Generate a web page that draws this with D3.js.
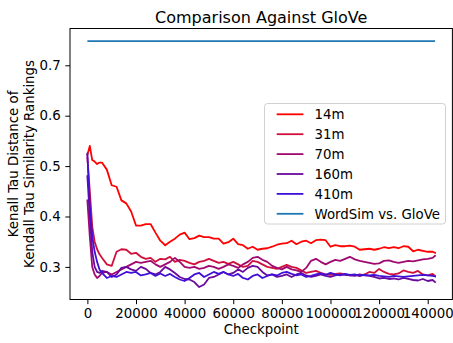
<!DOCTYPE html>
<html>
<head>
<meta charset="utf-8">
<script src="https://cdn.jsdelivr.net/npm/d3@7"></script>
<style>
  html, body { margin: 0; padding: 0; background: #fff; }
  svg { display: block; font-family: "DejaVu Sans", sans-serif; }
</style>
</head>
<body>
<svg id="chart" width="453" height="343"></svg>
<script>
// ---- data ----
const checkpoints = [0, 1000, 2000, 3000, 4000, 5000, 6000, 8000, 10000, 12000, 14000, 16000, 18000, 20000,
  22000, 24000, 26000, 28000, 30000, 32000, 34000, 36000, 38000, 40000, 42000, 44000, 46000, 48000, 50000,
  52000, 54000, 56000, 58000, 60000, 62000, 64000, 66000, 68000, 70000, 72000, 74000, 76000, 78000, 80000,
  82000, 84000, 86000, 88000, 90000, 92000, 94000, 96000, 98000, 100000, 102000, 104000, 106000, 108000, 110000,
  112000, 114000, 116000, 118000, 120000, 122000, 124000, 126000, 128000, 130000, 132000, 134000, 136000, 138000,
  140000, 142000, 143000];

const series14m = [0.522, 0.540, 0.512, 0.509, 0.504, 0.507, 0.507, 0.493, 0.462, 0.459, 0.432, 0.426, 0.410, 0.382,
  0.382, 0.385, 0.385, 0.368, 0.352, 0.343, 0.350, 0.356, 0.364, 0.368, 0.355, 0.357, 0.362, 0.359, 0.359,
  0.356, 0.356, 0.346, 0.349, 0.356, 0.345, 0.343, 0.336, 0.340, 0.334, 0.336, 0.337, 0.340, 0.344, 0.346,
  0.347, 0.352, 0.345, 0.350, 0.352, 0.347, 0.353, 0.354, 0.353, 0.340, 0.343, 0.341, 0.341, 0.342, 0.340,
  0.334, 0.335, 0.336, 0.334, 0.336, 0.339, 0.337, 0.339, 0.337, 0.341, 0.340, 0.331, 0.334, 0.332,
  0.330, 0.330, 0.328];

const series31m = [0.517, 0.450, 0.380, 0.350, 0.335, 0.325, 0.318, 0.305, 0.302, 0.330, 0.335, 0.334, 0.326, 0.328,
  0.320, 0.316, 0.318, 0.310, 0.316, 0.315, 0.320, 0.310, 0.314, 0.312, 0.308, 0.305, 0.310, 0.312, 0.316,
  0.312, 0.308, 0.310, 0.306, 0.310, 0.305, 0.300, 0.302, 0.312, 0.310, 0.305, 0.300, 0.298, 0.296, 0.300,
  0.304, 0.300, 0.298, 0.293, 0.288, 0.290, 0.292, 0.288, 0.285, 0.284, 0.286, 0.287, 0.285, 0.283, 0.284,
  0.282, 0.285, 0.290, 0.288, 0.296, 0.290, 0.286, 0.285, 0.287, 0.293, 0.290, 0.288, 0.292, 0.285,
  0.283, 0.286, 0.282];

const series70m = [0.432, 0.360, 0.300, 0.285, 0.278, 0.282, 0.288, 0.290, 0.285, 0.290, 0.295, 0.300, 0.305, 0.310,
  0.308, 0.310, 0.312, 0.305, 0.300, 0.305, 0.310, 0.318, 0.310, 0.300, 0.298, 0.300, 0.296, 0.298, 0.302,
  0.300, 0.296, 0.300, 0.305, 0.302, 0.298, 0.305, 0.310, 0.318, 0.320, 0.314, 0.310, 0.302, 0.298, 0.295,
  0.300, 0.295, 0.293, 0.290, 0.298, 0.312, 0.316, 0.310, 0.305, 0.310, 0.314, 0.312, 0.316, 0.320, 0.315,
  0.312, 0.310, 0.308, 0.306, 0.307, 0.312, 0.313, 0.310, 0.308, 0.310, 0.312, 0.311, 0.313, 0.315,
  0.316, 0.318, 0.322];

const series160m = [0.480, 0.400, 0.330, 0.300, 0.290, 0.288, 0.292, 0.290, 0.280, 0.285, 0.298, 0.300, 0.295, 0.292,
  0.300, 0.296, 0.288, 0.285, 0.290, 0.300, 0.295, 0.288, 0.280, 0.276, 0.275, 0.270, 0.260, 0.265, 0.278,
  0.280, 0.285, 0.290, 0.285, 0.288, 0.295, 0.290, 0.298, 0.302, 0.300, 0.290, 0.283, 0.285, 0.280, 0.282,
  0.285, 0.280, 0.285, 0.288, 0.283, 0.280, 0.282, 0.285, 0.282, 0.280, 0.283, 0.285, 0.284, 0.283, 0.282,
  0.285, 0.283, 0.282, 0.280, 0.277, 0.278, 0.276, 0.277, 0.275, 0.278, 0.276, 0.274, 0.273, 0.276,
  0.272, 0.274, 0.270];

const series410m = [0.525, 0.420, 0.360, 0.330, 0.310, 0.295, 0.288, 0.278, 0.282, 0.280, 0.285, 0.290, 0.288, 0.290,
  0.283, 0.285, 0.288, 0.282, 0.287, 0.282, 0.286, 0.280, 0.275, 0.272, 0.278, 0.285, 0.288, 0.280, 0.285,
  0.290, 0.286, 0.290, 0.285, 0.282, 0.286, 0.278, 0.275, 0.282, 0.285, 0.278, 0.282, 0.285, 0.283, 0.288,
  0.290, 0.286, 0.283, 0.285, 0.280, 0.282, 0.285, 0.287, 0.284, 0.288, 0.285, 0.283, 0.286, 0.284, 0.285,
  0.282, 0.284, 0.283, 0.284, 0.282, 0.281, 0.280, 0.282, 0.281, 0.280, 0.281, 0.282, 0.283, 0.284,
  0.283, 0.282, 0.281];

const wordsimValue = 0.748;
const wordsimRange = [0, 143000];

const seriesNames = ["14m", "31m", "70m", "160m", "410m"];
const seriesColors = ["#ff0000", "#d0103c", "#a00a70", "#6a0a9c", "#4010d8"];
const wordsimName = "WordSim vs. GloVe";
const wordsimColor = "#1f77b4";

const xTicks = [0, 20000, 40000, 60000, 80000, 100000, 120000, 140000];
const yTicks = [0.3, 0.4, 0.5, 0.6, 0.7];

const titleText = "Comparison Against GloVe";
const xLabel = "Checkpoint";
const yLabelLines = ["Kenall Tau Distance of", "Kendall Tau Similarity Rankings"];

// ---- layout ----
const plot = { left: 70, right: 452.4, top: 28.5, bottom: 299.5 };
const svg = d3.select("#chart");
const fs = 13.33;

const x = d3.scaleLinear().domain([-7150, 150150]).range([plot.left, plot.right]);
const y = d3.scaleLinear().domain([0.2353, 0.773]).range([plot.bottom, plot.top]);

const allSeries = [series14m, series31m, series70m, series160m, series410m];

// lines
const line = d3.line().x((d, i) => x(checkpoints[i])).y(d => y(d));
const gLines = svg.append("g");
allSeries.forEach((vals, k) => {
  gLines.append("path")
    .datum(vals)
    .attr("d", line)
    .attr("fill", "none")
    .attr("stroke", seriesColors[k])
    .attr("stroke-width", 1.8)
    .attr("stroke-linejoin", "round")
    .attr("stroke-linecap", "square");
});
gLines.append("path")
  .datum(wordsimRange)
  .attr("d", d3.line().x(d => x(d)).y(() => y(wordsimValue)))
  .attr("fill", "none")
  .attr("stroke", wordsimColor)
  .attr("stroke-width", 1.8);

// axes
const tickLen = 4.67;
const fmtY = d3.format(".1f");
const fmtX = d3.format("d");

const gx = svg.append("g")
  .attr("transform", `translate(0,${plot.bottom})`)
  .call(d3.axisBottom(x).tickValues(xTicks).tickFormat(fmtX).tickSize(tickLen).tickPadding(4.67));
const gy = svg.append("g")
  .attr("transform", `translate(${plot.left},0)`)
  .call(d3.axisLeft(y).tickValues(yTicks).tickFormat(fmtY).tickSize(tickLen).tickPadding(4.67));
[gx, gy].forEach(g => {
  g.select(".domain").remove();
  g.selectAll(".tick line").attr("stroke", "#000").attr("stroke-width", 1);
  g.selectAll(".tick text").attr("fill", "#000").style("font-size", fs + "px")
    .style("font-family", "'DejaVu Sans', sans-serif");
});

// frame
svg.append("rect")
  .attr("x", plot.left).attr("y", plot.top)
  .attr("width", plot.right - plot.left).attr("height", plot.bottom - plot.top)
  .attr("fill", "none").attr("stroke", "#000").attr("stroke-width", 1);

// title
svg.append("text")
  .attr("x", (plot.left + plot.right) / 2).attr("y", 23.3)
  .attr("text-anchor", "middle")
  .style("font-size", "16px")
  .text(titleText);

// x label
svg.append("text")
  .attr("x", (plot.left + plot.right) / 2).attr("y", 333.5)
  .attr("text-anchor", "middle")
  .style("font-size", fs + "px")
  .text(xLabel);

// y label (two lines, rotated)
const yMid = (plot.top + plot.bottom) / 2;
yLabelLines.forEach((t, i) => {
  svg.append("text")
    .attr("transform", `translate(${18 + i * 16},${yMid}) rotate(-90)`)
    .attr("text-anchor", "middle")
    .style("font-size", fs + "px")
    .text(t);
});

// legend
const legendItems = seriesNames.map((n, i) => ({ name: n, color: seriesColors[i] }))
  .concat([{ name: wordsimName, color: wordsimColor }]);
const lg = svg.append("g");
lg.append("rect")
  .attr("x", 264.5).attr("y", 103.5).attr("width", 181).attr("height", 120.5)
  .attr("rx", 3).attr("ry", 3)
  .attr("fill", "#fff").attr("fill-opacity", 0.8)
  .attr("stroke", "#d0d0d0").attr("stroke-width", 1);
legendItems.forEach((it, i) => {
  const yy = 114.3 + i * 19.9;
  lg.append("line")
    .attr("x1", 276.7).attr("x2", 303.4).attr("y1", yy).attr("y2", yy)
    .attr("stroke", it.color).attr("stroke-width", 1.8);
  lg.append("text")
    .attr("x", 314.5).attr("y", yy + 4.8)
    .style("font-size", fs + "px")
    .text(it.name);
});
</script>
</body>
</html>
